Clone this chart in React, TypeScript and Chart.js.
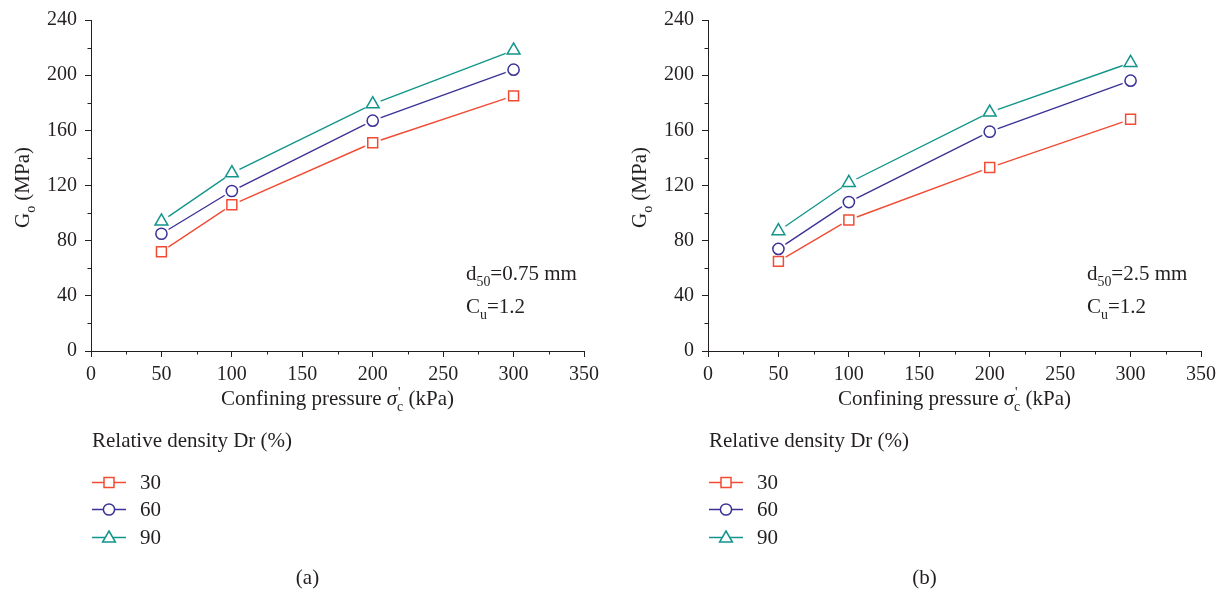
import React, { useEffect, useRef } from 'react';
import { Chart, registerables } from 'chart.js';

Chart.register(...registerables);

// ---------------- data ----------------
const pressures = [50, 100, 200, 300];
const densityLabels = ['30', '60', '90'];

const panelA_Dr30 = [72, 106, 151, 185];
const panelA_Dr60 = [85, 116, 167, 204];
const panelA_Dr90 = [94, 129, 179, 218];

const panelB_Dr30 = [65, 95, 133, 168];
const panelB_Dr60 = [74, 108, 159, 196];
const panelB_Dr90 = [87, 122, 173, 209];

const xMajorTicks = [0, 50, 100, 150, 200, 250, 300, 350];
const yMajorTicks = [0, 40, 80, 120, 160, 200, 240];
const xMinorTicks = [25, 75, 125, 175, 225, 275, 325];
const yMinorTicks = [20, 60, 100, 140, 180, 220];

const legendTitle = 'Relative density Dr (%)';

// ---------------- styles ----------------
const FONT = '"Liberation Serif", "DejaVu Serif", serif';
const TEXT = '#231f20';
const AXIS = '#231f20';
const COLORS = ['#f24b33', '#3a3296', '#12958a'];
const STYLES = ['rect', 'circle', 'triangle'];
const RADII = [7, 5.6, 7.4];
const FS = 21;
const TICK_FS = 20;

type Run = { t: string; italic?: boolean; sub?: string; sup?: string };

function runWidth(ctx: CanvasRenderingContext2D, r: Run, size: number) {
  ctx.font = `${r.italic ? 'italic ' : ''}${size}px ${FONT}`;
  const w = ctx.measureText(r.t).width;
  const ss = size * 0.66;
  ctx.font = `${ss}px ${FONT}`;
  const a = r.sub ? ctx.measureText(r.sub).width : 0;
  const b = r.sup ? ctx.measureText(r.sup).width : 0;
  return w + Math.max(a, b);
}

function drawRuns(ctx: CanvasRenderingContext2D, runs: Run[], x: number, y: number, size: number, align: 'left' | 'center') {
  let total = 0;
  for (const r of runs) total += runWidth(ctx, r, size);
  let cx = align === 'center' ? x - total / 2 : x;
  ctx.fillStyle = TEXT;
  ctx.textBaseline = 'alphabetic';
  ctx.textAlign = 'left';
  for (const r of runs) {
    ctx.font = `${r.italic ? 'italic ' : ''}${size}px ${FONT}`;
    ctx.fillText(r.t, cx, y);
    cx += ctx.measureText(r.t).width;
    const ss = size * 0.66;
    ctx.font = `${ss}px ${FONT}`;
    let a = 0, b = 0;
    if (r.sub) { ctx.fillText(r.sub, cx, y + size * 0.28); a = ctx.measureText(r.sub).width; }
    if (r.sup) { ctx.fillText(r.sup, cx + 1, y - size * 0.36); b = ctx.measureText(r.sup).width; }
    cx += Math.max(a, b);
  }
}

function legendMarker(ctx: CanvasRenderingContext2D, style: string, color: string, x: number, y: number) {
  ctx.beginPath();
  if (style === 'rect') {
    ctx.rect(x - 5, y - 5, 10, 10);
  } else if (style === 'circle') {
    ctx.arc(x, y, 5.6, 0, Math.PI * 2);
  } else {
    ctx.moveTo(x, y - 6.5);
    ctx.lineTo(x + 6.4, y + 4.5);
    ctx.lineTo(x - 6.4, y + 4.5);
    ctx.closePath();
  }
  ctx.fillStyle = '#ffffff';
  ctx.fill();
  ctx.lineWidth = 1.5;
  ctx.strokeStyle = color;
  ctx.stroke();
}

function haloImage() {
  const c = document.createElement('canvas');
  c.width = 20;
  c.height = 20;
  const ctx = c.getContext('2d')!;
  ctx.beginPath();
  ctx.arc(10, 10, 8.5, 0, Math.PI * 2);
  ctx.fillStyle = '#ffffff';
  ctx.fill();
  return c;
}

type PanelCfg = {
  series: number[][];
  note1: Run[];
  note2: Run[];
  noteX: number;
  caption: string;
};

const panelA: PanelCfg = {
  series: [panelA_Dr30, panelA_Dr60, panelA_Dr90],
  note1: [{ t: 'd', sub: '50' }, { t: '=0.75 mm' }],
  note2: [{ t: 'C', sub: 'u' }, { t: '=1.2' }],
  noteX: 466,
  caption: '(a)',
};

const panelB: PanelCfg = {
  series: [panelB_Dr30, panelB_Dr60, panelB_Dr90],
  note1: [{ t: 'd', sub: '50' }, { t: '=2.5 mm' }],
  note2: [{ t: 'C', sub: 'u' }, { t: '=1.2' }],
  noteX: 470,
  caption: '(b)',
};

const W = 610;
const H = 593;
const X_AXIS_H = 40;
const PLOT_BOTTOM = 351;

function Panel({ left, cfg }: { left: number; cfg: PanelCfg }) {
  const ref = useRef<HTMLCanvasElement>(null);
  useEffect(() => {
    const canvas = ref.current!;
    const decor = {
      id: 'decor',
      afterDraw(chart: any) {
        const ctx: CanvasRenderingContext2D = chart.ctx;
        const xs = chart.scales.x;
        const ys = chart.scales.y;
        const area = chart.chartArea;
        ctx.save();
        // minor ticks
        ctx.strokeStyle = AXIS;
        ctx.lineWidth = 1;
        for (const v of yMinorTicks) {
          const py = Math.round(ys.getPixelForValue(v)) + 0.5;
          ctx.beginPath();
          ctx.moveTo(area.left - 3.5, py);
          ctx.lineTo(area.left, py);
          ctx.stroke();
        }
        for (const v of xMinorTicks) {
          const px = Math.round(xs.getPixelForValue(v)) + 0.5;
          ctx.beginPath();
          ctx.moveTo(px, area.bottom);
          ctx.lineTo(px, area.bottom + 3.5);
          ctx.stroke();
        }
        // axis titles
        const cxMid = (area.left + area.right) / 2;
        drawRuns(ctx, [{ t: 'Confining pressure ' }, { t: 'σ', italic: true, sup: "'", sub: 'c' }, { t: ' (kPa)' }], cxMid, 405, FS, 'center');
        ctx.save();
        ctx.translate(29, (area.top + area.bottom) / 2 + 2);
        ctx.rotate(-Math.PI / 2);
        drawRuns(ctx, [{ t: 'G', sub: 'o' }, { t: ' (MPa)' }], 0, 0, FS, 'center');
        ctx.restore();
        // annotations
        drawRuns(ctx, cfg.note1, cfg.noteX, 280, FS, 'left');
        drawRuns(ctx, cfg.note2, cfg.noteX, 313, FS, 'left');
        // legend
        drawRuns(ctx, [{ t: legendTitle }], 92, 447, FS, 'left');
        const rowY = [482, 509, 537];
        for (let i = 0; i < densityLabels.length; i++) {
          const y = rowY[i];
          ctx.beginPath();
          ctx.moveTo(92, y + 0.5);
          ctx.lineTo(126, y + 0.5);
          ctx.strokeStyle = COLORS[i];
          ctx.lineWidth = 1.4;
          ctx.stroke();
          legendMarker(ctx, STYLES[i], COLORS[i], 109, y + 0.5);
          drawRuns(ctx, [{ t: densityLabels[i] }], 140, y + 7, FS, 'left');
        }
        // caption
        drawRuns(ctx, [{ t: cfg.caption }], cxMid - 30, 584, FS, 'center');
        ctx.restore();
      },
    };

    const halo = haloImage();
    const lineSets = cfg.series.map((vals, i) => ({
      label: densityLabels[i] + ' line',
      data: pressures.map((p, j) => ({ x: p, y: vals[j] })),
      borderColor: COLORS[i],
      borderWidth: 1.4,
      backgroundColor: '#ffffff',
      pointStyle: halo as any,
      pointRadius: 6,
      tension: 0,
      order: 1,
      clip: false as any,
    }));
    const markerSets = cfg.series.map((vals, i) => ({
      label: densityLabels[i],
      data: pressures.map((p, j) => ({ x: p, y: vals[j] })),
      showLine: false,
      borderColor: COLORS[i],
      pointBorderColor: COLORS[i],
      pointBackgroundColor: '#ffffff',
      pointBorderWidth: 1.5,
      pointStyle: STYLES[i],
      pointRadius: RADII[i],
      order: 0,
      clip: false as any,
    }));

    const tickFont = { family: FONT, size: TICK_FS };
    const chart = new Chart(canvas, {
      type: 'line',
      data: { datasets: [...lineSets, ...markerSets] },
      plugins: [decor],
      options: {
        animation: false,
        responsive: false,
        maintainAspectRatio: false,
        events: [],
        layout: { padding: { left: 0, right: W - 584, top: 16, bottom: H - PLOT_BOTTOM - X_AXIS_H } },
        plugins: { legend: { display: false }, tooltip: { enabled: false }, title: { display: false } },
        scales: {
          x: {
            type: 'linear',
            min: 0,
            max: 350,
            afterBuildTicks: (s: any) => { s.ticks = xMajorTicks.map((v) => ({ value: v })); },
            afterFit: (s: any) => { s.height = X_AXIS_H; },
            ticks: { font: tickFont, color: TEXT, padding: 6, maxRotation: 0, autoSkip: false },
            grid: { display: true, drawOnChartArea: false, drawTicks: true, tickLength: 6, color: AXIS, lineWidth: 1 },
            border: { display: true, color: AXIS, width: 1 },
          },
          y: {
            type: 'linear',
            min: 0,
            max: 240,
            afterBuildTicks: (s: any) => { s.ticks = yMajorTicks.map((v) => ({ value: v })); },
            afterFit: (s: any) => { s.width = 91; },
            ticks: { font: tickFont, color: TEXT, padding: 8, autoSkip: false },
            grid: { display: true, drawOnChartArea: false, drawTicks: true, tickLength: 6, color: AXIS, lineWidth: 1 },
            border: { display: true, color: AXIS, width: 1 },
          },
        },
      } as any,
    });
    return () => chart.destroy();
  }, []);
  return (
    <div style={{ position: 'absolute', left, top: 0, width: W, height: H }}>
      <canvas ref={ref} width={W} height={H} style={{ display: 'block', width: W, height: H }} />
    </div>
  );
}

export default function App() {
  return (
    <div style={{ position: 'fixed', left: 0, top: 0, width: 1227, height: 593, background: '#ffffff', overflow: 'hidden' }}>
      <Panel left={0} cfg={panelA} />
      <Panel left={617} cfg={panelB} />
    </div>
  );
}
